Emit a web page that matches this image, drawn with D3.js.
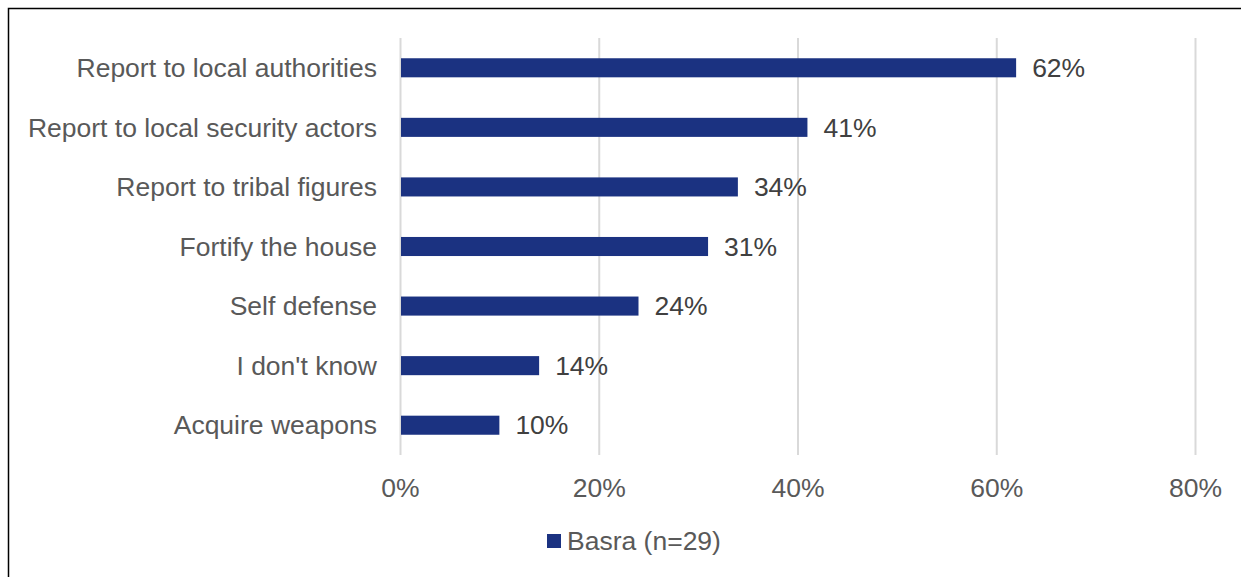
<!DOCTYPE html>
<html>
<head>
<meta charset="utf-8">
<script src="https://cdn.jsdelivr.net/npm/d3@7"></script>
<style>
  html, body { margin: 0; padding: 0; background: #fff; }
  svg { display: block; }
  text { font-family: "Liberation Sans", Arial, sans-serif; }
</style>
</head>
<body>
<svg id="chart" width="1241" height="577"></svg>
<script>
// Responses, in display order (top to bottom)
const categories = [
  "Report to local authorities",
  "Report to local security actors",
  "Report to tribal figures",
  "Fortify the house",
  "Self defense",
  "I don't know",
  "Acquire weapons"
];
const values = [62, 41, 34, 31, 24, 14, 10];
const seriesName = "Basra (n=29)";
const tickValues = [0, 20, 40, 60, 80];

const FS = 26.5;
const svg = d3.select("#chart");
const W = 1241, H = 577;
const margin = { left: 400, right: 46, top: 38, bottom: 122 };

// Outer frame
svg.append("rect")
  .attr("x", 8.5).attr("y", 8.5)
  .attr("width", W + 20).attr("height", H + 20)
  .attr("fill", "none").attr("stroke", "#000").attr("stroke-width", 1.5);

const x = d3.scaleLinear().domain([0, 80]).range([margin.left, W - margin.right]);
const y = d3.scaleBand().domain(categories)
  .range([margin.top, H - margin.bottom]).paddingInner(0.68).paddingOuter(0.34);

// Vertical gridlines
svg.append("g").selectAll("line").data(tickValues).join("line")
  .attr("x1", d => x(d) + 0.5).attr("x2", d => x(d) + 0.5)
  .attr("y1", margin.top).attr("y2", H - margin.bottom)
  .attr("stroke", "#d9d9d9").attr("stroke-width", 2);

// Bars
svg.append("g").selectAll("rect").data(values).join("rect")
  .attr("x", x(0) + 1)
  .attr("y", (d, i) => y(categories[i]))
  .attr("width", d => x(d) - x(0) - 1)
  .attr("height", y.bandwidth())
  .attr("fill", "#1b3281");

// Value labels
svg.append("g").selectAll("text").data(values).join("text")
  .attr("x", d => x(d) + 16)
  .attr("y", (d, i) => y(categories[i]) + y.bandwidth() / 2)
  .attr("dy", "0.35em")
  .attr("font-size", FS)
  .attr("fill", "#404040")
  .text(d => d + "%");

// Category labels
svg.append("g").selectAll("text").data(categories).join("text")
  .attr("x", margin.left - 23)
  .attr("y", d => y(d) + y.bandwidth() / 2)
  .attr("dy", "0.35em")
  .attr("text-anchor", "end")
  .attr("font-size", FS)
  .attr("fill", "#595959")
  .text(d => d);

// X axis tick labels
const xAxis = d3.axisBottom(x).tickValues(tickValues).tickSize(0).tickPadding(0)
  .tickFormat(d => d + "%");
const gx = svg.append("g").attr("transform", `translate(0, ${488})`).call(xAxis);
gx.select(".domain").remove();
gx.selectAll("text")
  .attr("font-size", FS)
  .attr("fill", "#595959")
  .attr("dy", "0.35em")
  .attr("font-family", "Liberation Sans, Arial, sans-serif");

// Legend
const lg = svg.append("g").attr("transform", "translate(547, 541)");
lg.append("rect").attr("x", 0).attr("y", -7).attr("width", 14).attr("height", 14).attr("fill", "#1b3281");
lg.append("text").attr("x", 20).attr("y", 0).attr("dy", "0.35em")
  .attr("font-size", FS).attr("fill", "#595959").text(seriesName);
</script>
</body>
</html>
